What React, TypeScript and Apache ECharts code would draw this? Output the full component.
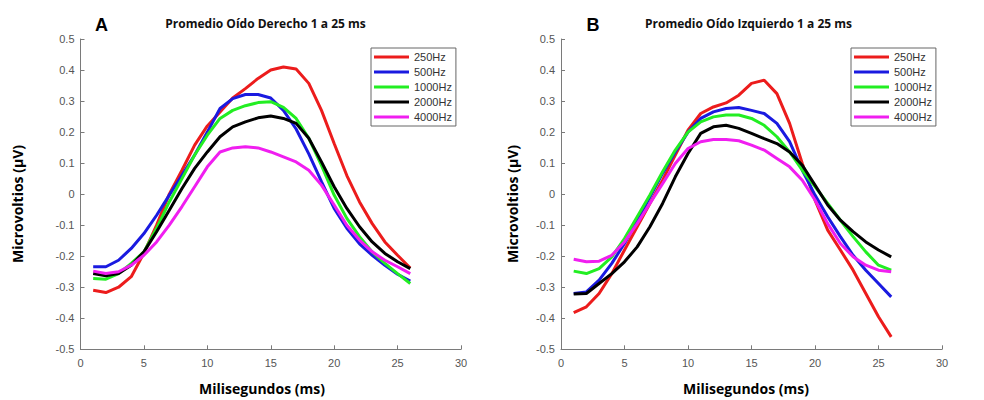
import React, { useEffect, useRef } from "react";
import * as echarts from "echarts";

const xMs = [1, 2, 3, 4, 5, 6, 7, 8, 9, 10, 11, 12, 13, 14, 15, 16, 17, 18, 19, 20, 21, 22, 23, 24, 25, 26];
const seriesNames = ["250Hz", "500Hz", "1000Hz", "2000Hz", "4000Hz"];
const seriesColors = ["#ec1c1c", "#1a1ae0", "#22ee22", "#000000", "#f01ef0"];

// Panel A: Promedio Oído Derecho
const derecho250 = [-0.31, -0.317, -0.3, -0.266, -0.19, -0.1, 0.0, 0.077, 0.158, 0.22, 0.265, 0.31, 0.34, 0.373, 0.4, 0.41, 0.403, 0.357, 0.27, 0.163, 0.06, -0.025, -0.095, -0.154, -0.197, -0.238];
const derecho500 = [-0.234, -0.234, -0.213, -0.175, -0.127, -0.068, -0.003, 0.061, 0.126, 0.2, 0.276, 0.308, 0.321, 0.321, 0.31, 0.27, 0.21, 0.13, 0.04, -0.046, -0.11, -0.16, -0.197, -0.229, -0.258, -0.28];
const derecho1000 = [-0.272, -0.274, -0.256, -0.223, -0.186, -0.11, -0.025, 0.05, 0.126, 0.19, 0.244, 0.27, 0.285, 0.295, 0.298, 0.28, 0.244, 0.18, 0.093, -0.003, -0.078, -0.137, -0.186, -0.223, -0.256, -0.288];
const derecho2000 = [-0.256, -0.263, -0.256, -0.229, -0.186, -0.121, -0.052, 0.018, 0.083, 0.136, 0.185, 0.217, 0.233, 0.246, 0.252, 0.244, 0.228, 0.18, 0.104, 0.024, -0.046, -0.105, -0.154, -0.191, -0.218, -0.24];
const derecho4000 = [-0.248, -0.256, -0.25, -0.229, -0.197, -0.154, -0.1, -0.04, 0.024, 0.088, 0.136, 0.149, 0.153, 0.149, 0.136, 0.12, 0.104, 0.077, 0.029, -0.035, -0.1, -0.148, -0.186, -0.213, -0.234, -0.256];

// Panel B: Promedio Oído Izquierdo
const izquierdo250 = [-0.382, -0.363, -0.32, -0.256, -0.18, -0.105, -0.03, 0.045, 0.126, 0.206, 0.26, 0.281, 0.294, 0.319, 0.357, 0.367, 0.324, 0.228, 0.099, -0.019, -0.116, -0.18, -0.245, -0.32, -0.395, -0.46];
const izquierdo500 = [-0.32, -0.315, -0.277, -0.223, -0.159, -0.084, -0.009, 0.067, 0.136, 0.2, 0.244, 0.265, 0.276, 0.279, 0.27, 0.26, 0.228, 0.169, 0.077, -0.003, -0.073, -0.137, -0.197, -0.245, -0.288, -0.331];
const izquierdo1000 = [-0.248, -0.256, -0.24, -0.202, -0.143, -0.073, -0.003, 0.072, 0.142, 0.2, 0.233, 0.249, 0.255, 0.255, 0.244, 0.222, 0.185, 0.136, 0.077, 0.024, -0.03, -0.084, -0.137, -0.186, -0.229, -0.245];
const izquierdo2000 = [-0.322, -0.32, -0.288, -0.256, -0.218, -0.17, -0.105, -0.03, 0.056, 0.131, 0.196, 0.217, 0.222, 0.212, 0.196, 0.179, 0.163, 0.136, 0.093, 0.029, -0.035, -0.084, -0.121, -0.154, -0.18, -0.202];
const izquierdo4000 = [-0.21, -0.218, -0.216, -0.197, -0.154, -0.095, -0.03, 0.034, 0.099, 0.147, 0.169, 0.176, 0.176, 0.172, 0.158, 0.142, 0.115, 0.088, 0.045, -0.019, -0.095, -0.159, -0.202, -0.229, -0.245, -0.25];

const xTickValues = [0, 5, 10, 15, 20, 25, 30];
const yTickValues = [-0.5, -0.4, -0.3, -0.2, -0.1, 0, 0.1, 0.2, 0.3, 0.4, 0.5];

const panelTitles = ["Promedio Oído Derecho 1 a 25 ms", "Promedio Oído Izquierdo 1 a 25 ms"];
const panelLetters = ["A", "B"];
const xAxisTitle = "Milisegundos (ms)";
const yAxisTitle = "Microvoltios (µV)";

export default function App() {
  const ref = useRef<HTMLDivElement>(null);

  useEffect(() => {
    if (!ref.current) return;
    const chart = echarts.init(ref.current, null, { renderer: "svg" });

    const panels = [
      [derecho250, derecho500, derecho1000, derecho2000, derecho4000],
      [izquierdo250, izquierdo500, izquierdo1000, izquierdo2000, izquierdo4000],
    ];

    const gridDefs = [
      { left: 80.5, top: 39, width: 380.5, height: 310.3 },
      { left: 561, top: 39, width: 381, height: 310.3 },
    ];

    const axisColor = "#7a7a7a";
    const labelColor = "#555555";
    const sansFont = "'Liberation Sans', Arial, sans-serif";
    const boldFont = "'Open Sans', 'Noto Sans', sans-serif";

    const xAxes = gridDefs.map((_, i) => ({
      type: "value",
      gridIndex: i,
      min: xTickValues[0],
      max: xTickValues[xTickValues.length - 1],
      interval: 5,
      axisLine: { show: true, onZero: false, lineStyle: { color: axisColor, width: 1 } },
      axisTick: { show: true, inside: true, length: 4, lineStyle: { color: axisColor } },
      axisLabel: { color: labelColor, fontSize: 11, fontFamily: sansFont, margin: 8 },
      splitLine: { show: false },
    }));

    const yAxes = gridDefs.map((_, i) => ({
      type: "value",
      gridIndex: i,
      min: yTickValues[0],
      max: yTickValues[yTickValues.length - 1],
      interval: 0.1,
      axisLine: { show: true, onZero: false, lineStyle: { color: axisColor, width: 1 } },
      axisTick: { show: true, inside: true, length: 4, lineStyle: { color: axisColor } },
      axisLabel: {
        color: labelColor,
        fontSize: 11,
        fontFamily: sansFont,
        margin: 6,
        formatter: (v: number) => String(Math.round(v * 10) / 10),
      },
      splitLine: { show: false },
    }));

    const series: any[] = [];
    panels.forEach((panel, p) => {
      panel.forEach((vals, s) => {
        series.push({
          type: "line",
          name: seriesNames[s],
          xAxisIndex: p,
          yAxisIndex: p,
          data: xMs.map((x, k) => [x, vals[k]]),
          showSymbol: false,
          symbol: "none",
          smooth: false,
          color: seriesColors[s],
          lineStyle: { color: seriesColors[s], width: 3 },
          z: 2 + s,
        });
      });
    });

    const legends = [371, 851].map((left) => ({
      left,
      top: 48,
      orient: "vertical",
      data: seriesNames,
      icon: "rect",
      itemWidth: 35,
      itemHeight: 3,
      itemGap: 3,
      padding: [3, 4, 3, 3],
      borderColor: "#666666",
      borderWidth: 1,
      backgroundColor: "#ffffff",
      selectedMode: false,
      textStyle: { color: "#333333", fontSize: 11, fontFamily: sansFont, lineHeight: 12 },
    }));

    const centers = [
      { title: 265.5, letter: 101.5, xName: 262, yName: 17.5 },
      { title: 748.5, letter: 593, xName: 746, yName: 512.5 },
    ];

    const graphics: any[] = [];
    centers.forEach((c, i) => {
      graphics.push({
        type: "text",
        x: c.letter,
        y: 24.5,
        style: {
          text: panelLetters[i],
          fontSize: 18,
          fontWeight: "bold",
          fontFamily: "'Liberation Sans', Arial, sans-serif",
          fill: "#000",
          align: "center",
          verticalAlign: "middle",
        },
      });
      graphics.push({
        type: "text",
        x: c.title,
        y: 23,
        style: {
          text: panelTitles[i],
          fontSize: 12,
          fontWeight: "bold",
          fontFamily: boldFont,
          fill: "#111",
          align: "center",
          verticalAlign: "middle",
        },
      });
      graphics.push({
        type: "text",
        x: c.xName,
        y: 388,
        style: {
          text: xAxisTitle,
          fontSize: 14,
          fontWeight: "bold",
          fontFamily: boldFont,
          fill: "#000",
          align: "center",
          verticalAlign: "middle",
        },
      });
      graphics.push({
        type: "text",
        x: c.yName,
        y: 204,
        rotation: Math.PI / 2,
        style: {
          text: yAxisTitle,
          fontSize: 14,
          fontWeight: "bold",
          fontFamily: boldFont,
          fill: "#000",
          align: "center",
          verticalAlign: "middle",
        },
      });
    });

    chart.setOption({
      animation: false,
      backgroundColor: "#ffffff",
      grid: gridDefs.map((g) => ({ ...g, containLabel: false })),
      xAxis: xAxes,
      yAxis: yAxes,
      legend: legends,
      series,
      graphic: graphics,
    });

    return () => chart.dispose();
  }, []);

  return (
    <div
      ref={ref}
      style={{ position: "absolute", left: 0, top: 0, width: 984, height: 400 }}
    />
  );
}
